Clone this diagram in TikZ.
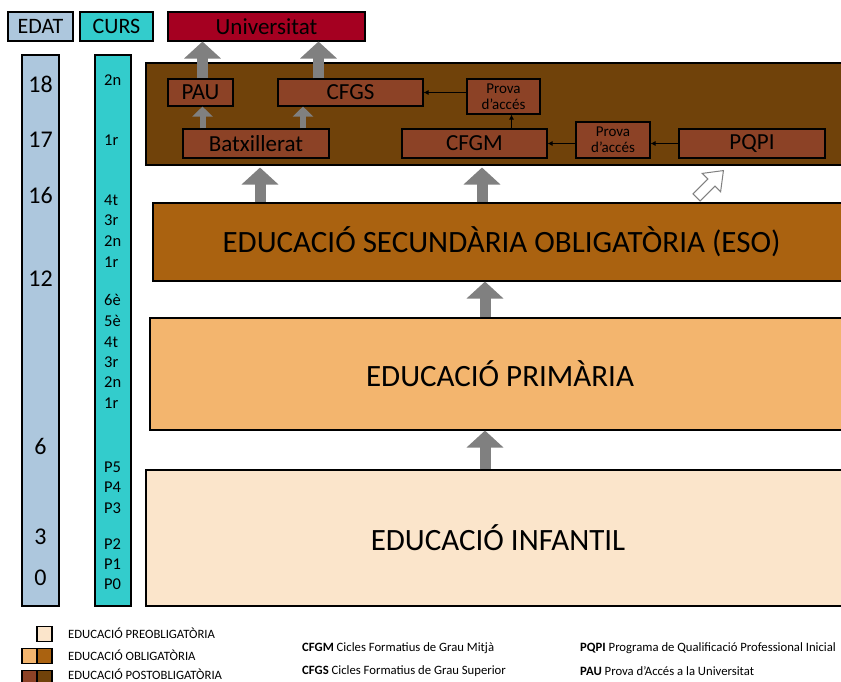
\documentclass[tikz,border=0pt]{standalone}
\usepackage{fontspec}
\setmainfont{Carlito}
\usetikzlibrary{arrows.meta,calc}
\definecolor{edatc}{RGB}{173,199,221}
\definecolor{cursc}{RGB}{51,204,204}
\definecolor{unic}{RGB}{165,0,33}
\definecolor{postc}{RGB}{112,66,10}
\definecolor{innerc}{RGB}{140,66,38}
\definecolor{esoc}{RGB}{170,98,16}
\definecolor{primc}{RGB}{243,181,110}
\definecolor{infc}{RGB}{251,229,203}
\definecolor{arrc}{RGB}{128,128,128}
\tikzset{
  box/.style={draw=black, line width=1.1pt, inner sep=0pt, align=center},
  inbox/.style={box, fill=innerc, font=\fontsize{23}{25}\selectfont},
  bigarrow/.style={draw=arrc, line width=11pt, -{Triangle[width=36pt,length=17pt]}, arrc},
  smallarrow/.style={draw=arrc, line width=6pt, -{Triangle[width=20pt,length=10pt]}, arrc},
  thinarrow/.style={draw=black, line width=0.8pt, -{Latex[length=5pt,width=5pt]}},
  legtext/.style={anchor=west, inner sep=0pt, font=\fontsize{12.7}{14}\selectfont},
  legsq/.style={draw=black, line width=1.2pt, minimum width=15pt, minimum height=15pt, inner sep=0pt}
}
\begin{document}
\begin{tikzpicture}[x=1pt,y=-1pt]
\useasboundingbox (0,0) rectangle (841,682);
\clip (0,0) rectangle (841,682);
\fill[white] (0,0) rectangle (841,682);

% headers
\node[box, fill=edatc, minimum width=65pt, minimum height=29pt, font=\fontsize{22}{24}\selectfont] (edat) at (40.5,26.5) {EDAT};
\node[box, fill=cursc, minimum width=73pt, minimum height=29pt, font=\fontsize{22}{24}\selectfont] (curs) at (116.5,26.5) {CURS};
\node[box, fill=unic, minimum width=197pt, minimum height=29pt, font=\fontsize{23}{25}\selectfont] (uni) at (266.5,26.5) {Universitat};

% columns
\node[box, fill=edatc, minimum width=37pt, minimum height=551pt] (edatcol) at (40.5,330.5) {};
\node[box, fill=cursc, minimum width=36pt, minimum height=551pt] (curscol) at (113,330.5) {};

\foreach \v/\y/\n in {18/84/e18,17/140/e17,16/195/e16,12/279/e12,6/446/e6,3/537/e3,0/578/e0}
  \node[font=\fontsize{24}{26}\selectfont, inner sep=0pt] (\n) at (40.5,\y) {\v};
\foreach \v/\y/\n in {2n/80/c1,1r/140/c2,4t/200/c3,3r/220/c4,2n/241/c5,1r/262/c6,6è/300/c7,5è/321/c8,4t/342/c9,3r/362/c10,2n/382/c11,1r/403/c12,P5/467/c13,P4/487/c14,P3/508/c15,P2/544/c16,P1/564/c17,P0/584/c18}
  \node[font=\fontsize{16.5}{18}\selectfont, inner sep=0pt, anchor=west] (\n) at (104,\y) {\v};

% main stages
\node[box, fill=postc, minimum width=704pt, minimum height=102pt] (post) at (498,114) {};
\node[box, fill=esoc, minimum width=697pt, minimum height=78pt, font=\fontsize{31}{33}\selectfont] (eso) at (501.5,242) {EDUCACIÓ SECUNDÀRIA OBLIGATÒRIA (ESO)};
\node[box, fill=primc, minimum width=700pt, minimum height=112pt, font=\fontsize{31}{33}\selectfont] (prim) at (500,374) {EDUCACIÓ PRIMÀRIA};
\node[box, fill=infc, minimum width=704pt, minimum height=136pt, font=\fontsize{31}{33}\selectfont] (inf) at (498,538) {EDUCACIÓ INFANTIL};

% inner boxes
\node[inbox, minimum width=65pt, minimum height=27pt] (pau) at (200.5,92.5) {PAU};
\node[inbox, minimum width=145pt, minimum height=27pt] (cfgs) at (350.5,92.5) {CFGS};
\node[inbox, minimum width=73pt, minimum height=35pt, font=\fontsize{15}{16}\selectfont] (prova1) at (503.5,96.5) {Prova\\d’accés};
\node[inbox, minimum width=146pt, minimum height=29pt] (batx) at (256,143.5) {Batxillerat};
\node[inbox, minimum width=145pt, minimum height=29pt] (cfgm) at (474.5,143.5) {CFGM};
\node[inbox, minimum width=74pt, minimum height=36pt, font=\fontsize{15}{16}\selectfont] (prova2) at (613,140) {Prova\\d’accés};
\node[inbox, minimum width=146pt, minimum height=29pt] (pqpi) at (752,143.5) {PQPI};

% gray block arrows
\draw[bigarrow] ([xshift=2]pau.north) -- ([xshift=2]pau.north |- uni.south);
\draw[bigarrow] ([xshift=-32]cfgs.north) -- ([xshift=-32]cfgs.north |- uni.south);
\draw[smallarrow] ([xshift=2]pau.south |- batx.north) -- ([xshift=2]pau.south);
\draw[smallarrow] ([xshift=47]batx.north) -- ([xshift=47]batx.north |- cfgs.south);
\draw[bigarrow] ([xshift=4]batx.south |- eso.north) -- ([xshift=4,yshift=-2]batx.south |- post.south);
\draw[bigarrow] ([xshift=7.5]cfgm.south |- eso.north) -- ([xshift=7.5,yshift=-2]cfgm.south |- post.south);
\draw[bigarrow] ([xshift=-15]prim.north) -- ([xshift=-15]prim.north |- eso.south);
\draw[bigarrow] ([xshift=-13]inf.north) -- ([xshift=-13]inf.north |- prim.south);

% hollow arrow
\draw[draw=arrc, fill=white, line width=1pt, shift={(710,184)}, rotate=45]
  (-19,-5) -- (2,-5) -- (2,-13) -- (19,0) -- (2,13) -- (2,5) -- (-19,5) -- cycle;

% thin arrows
\draw[thinarrow] ([xshift=8]prova1.south |- cfgm.north) -- ([xshift=8]prova1.south);
\draw[thinarrow] (prova1.west |- cfgs.east) -- (cfgs.east);
\draw[thinarrow] (prova2.west |- cfgm.east) -- (cfgm.east);
\draw[thinarrow] (pqpi.west) -- (prova2.east |- pqpi.west);

% legend
\node[legsq, fill=infc] (l1) at (44.5,634) {};
\node[legsq, fill=primc] (l2a) at (29.5,656) {};
\node[legsq, fill=esoc] (l2b) at (44.5,656) {};
\node[legsq, fill=innerc] (l3a) at (29.5,678) {};
\node[legsq, fill=postc] (l3b) at (44.5,678) {};
\node[legtext] (t1) at (68,633) {EDUCACIÓ PREOBLIGATÒRIA};
\node[legtext] (t2) at (68,655) {EDUCACIÓ OBLIGATÒRIA};
\node[legtext] (t3) at (68,674.5) {EDUCACIÓ POSTOBLIGATÒRIA};
\node[legtext] (t4) at (302,648) {\textbf{CFGM} Cicles Formatius de Grau Mitjà};
\node[legtext] (t5) at (302,671) {\textbf{CFGS} Cicles Formatius de Grau Superior};
\node[legtext] (t6) at (580,648) {\textbf{PQPI} Programa de Qualificació Professional Inicial};
\node[legtext] (t7) at (580,671) {\textbf{PAU} Prova d’Accés a la Universitat};
\end{tikzpicture}
\end{document}
